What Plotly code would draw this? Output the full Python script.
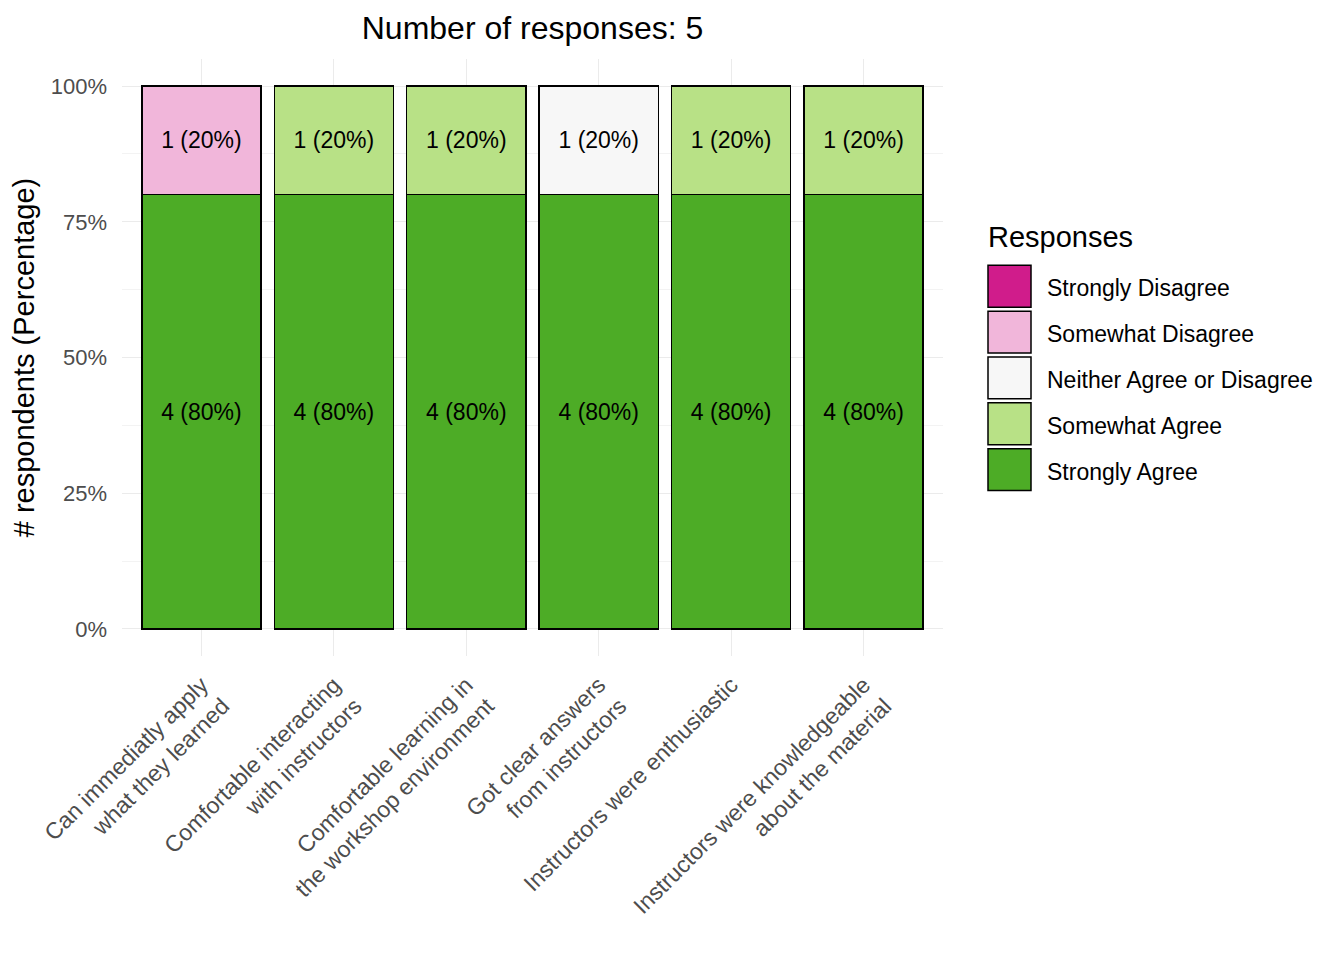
import plotly.graph_objects as go

categories = [
    "Can immediatly apply<br>what they learned",
    "Comfortable interacting<br>with instructors",
    "Comfortable learning in<br>the workshop environment",
    "Got clear answers<br>from instructors",
    "Instructors were enthusiastic",
    "Instructors were knowledgeable<br>about the material",
]
responses = ["Strongly Disagree", "Somewhat Disagree", "Neither Agree or Disagree",
             "Somewhat Agree", "Strongly Agree"]
colors = ["#D01C8B", "#F1B6DA", "#F7F7F7", "#B8E186", "#4DAC26"]
counts = {
    "Strongly Disagree": [0, 0, 0, 0, 0, 0],
    "Somewhat Disagree": [1, 0, 0, 0, 0, 0],
    "Neither Agree or Disagree": [0, 0, 0, 1, 0, 0],
    "Somewhat Agree": [0, 1, 1, 0, 1, 1],
    "Strongly Agree": [4, 4, 4, 4, 4, 4],
}
n_total = 5
ytick_vals = [0, 0.25, 0.5, 0.75, 1.0]
ytick_text = ["0%", "25%", "50%", "75%", "100%"]

FONT = "Liberation Sans, Arial, sans-serif"
fig = go.Figure()
xs = list(range(1, len(categories) + 1))
# stacking: Strongly Agree at bottom
for resp, col in reversed(list(zip(responses, colors))):
    c = counts[resp]
    frac = [v / n_total for v in c]
    text = [f"{v} ({round(100*v/n_total)}%)" if v > 0 else "" for v in c]
    fig.add_trace(go.Bar(
        x=xs, y=frac, name=resp, marker_color=col,
        marker_line=dict(color="black", width=1.5),
        width=0.9, text=text, textposition="inside", insidetextanchor="middle",
        textangle=0, textfont=dict(size=23, color="black", family=FONT),
        showlegend=False,
    ))

# page offset (body margin) and plot area in screen pixels
OFF = 8
W, H = 1344 - 2 * OFF, 960 - 2 * OFF
L, R, T, B = 122, 943, 59, 658

def px(x):
    return (x - L) / (R - L)

def py(y):
    return (B - y) / (B - T)

# custom legend
shapes = []
annotations = []
annotations.append(dict(xref="paper", yref="paper", x=px(986), y=py(238), text="Responses",
                        showarrow=False, xanchor="left", yanchor="middle",
                        font=dict(size=29, color="black", family=FONT)))
for i, (resp, col) in enumerate(zip(responses, colors)):
    top = 266 + 46 * i
    shapes.append(dict(type="rect", xref="paper", yref="paper",
                       x0=px(988), x1=px(1031), y0=py(top), y1=py(top + 42),
                       fillcolor=col, line=dict(color="black", width=1.5)))
    annotations.append(dict(xref="paper", yref="paper", x=px(1045), y=py(top + 23), text=resp,
                            showarrow=False, xanchor="left", yanchor="middle",
                            font=dict(size=23, color="black", family=FONT)))

fig.update_layout(
    barmode="stack",
    width=W, height=H,
    margin=dict(l=L - OFF, r=W - (R - OFF), t=T - OFF, b=H - (B - OFF)),
    plot_bgcolor="white", paper_bgcolor="white",
    font=dict(family=FONT),
    title=dict(text="Number of responses: 5", x=((L + R) / 2 - OFF) / W, xanchor="center",
               y=1 - (28 - OFF) / H, yanchor="middle", font=dict(size=32, color="black", family=FONT)),
    shapes=shapes, annotations=annotations,
    showlegend=False,
)
fig.update_xaxes(
    range=[0.4, 6.6], tickvals=xs, ticktext=categories, tickangle=-45,
    showgrid=True, gridcolor="#EBEBEB", gridwidth=1.2, zeroline=False,
    tickfont=dict(size=23, color="#4D4D4D", family=FONT), ticks="",
    ticklabelstandoff=10,
    showline=False,
)
fig.update_yaxes(
    range=[-0.05, 1.05], tickvals=ytick_vals, ticktext=ytick_text,
    showgrid=True, gridcolor="#EBEBEB", gridwidth=1.2, zeroline=False,
    tickfont=dict(size=22, color="#4D4D4D", family=FONT), ticks="",
    ticklabelstandoff=14,
    minor=dict(tickvals=[0.125, 0.375, 0.625, 0.875], showgrid=True, gridcolor="#F3F3F3", gridwidth=0.8),
    title=dict(text="# respondents (Percentage)", font=dict(size=29, color="black", family=FONT), standoff=7),
)
fig.write_html("out.html")
